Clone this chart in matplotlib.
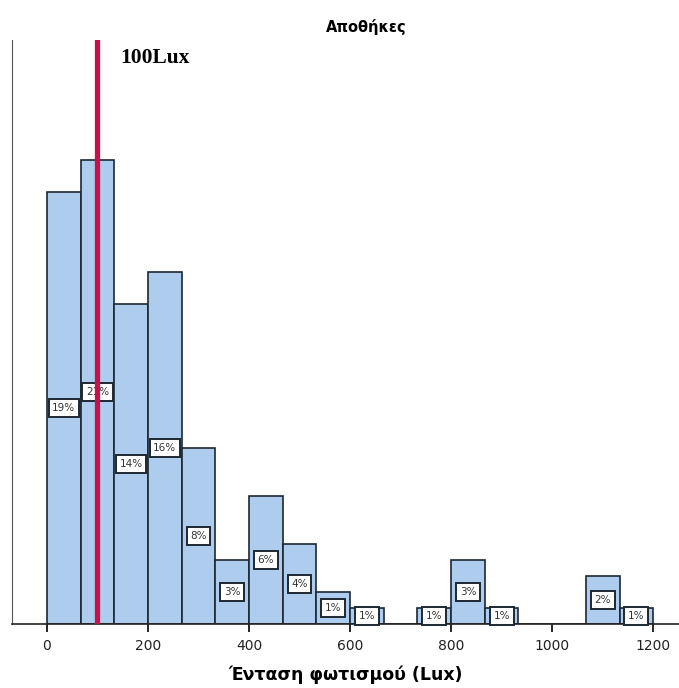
import numpy as np
import matplotlib
matplotlib.use("Agg")
import matplotlib.pyplot as plt

title = "Αποθήκες"
xlabel = "Ένταση φωτισμού (Lux)"
bin_start, bin_end, n_bins = 0, 1200, 18
counts = [27, 29, 20, 22, 11, 4, 8, 5, 2, 1, 0, 1, 4, 1, 0, 0, 3, 1]
xticks = [0, 200, 400, 600, 800, 1000, 1200]
ref_value = 100
ref_label = "100Lux"

edges = np.linspace(bin_start, bin_end, n_bins + 1)
widths = np.diff(edges)
centers = edges[:-1] + widths / 2
total = sum(counts)

fig = plt.figure(figsize=(6.79, 6.88), dpi=100)
ax = fig.add_axes([12/679, 64/688, 1 - 12/679, (624 - 40)/688])

ax.bar(edges[:-1], counts, width=widths, align="edge", color="#aecdee",
       edgecolor="#1c2833", linewidth=1.2, zorder=2)

for c, x in zip(counts, centers):
    if c == 0:
        continue
    pct = int(round(c / total * 100))
    ax.text(x, c / 2, f"{pct}%", ha="center", va="center", fontsize=7.5,
            color="#333333", zorder=3,
            bbox=dict(boxstyle="square,pad=0.35", fc="white", ec="#1c2833", lw=1.4))

ax.axvline(ref_value, color="#c8104a", lw=3.8, zorder=4)
ax.text(ref_value + 45, 35.4, ref_label, fontsize=15.5, fontweight="bold",
        family=["Liberation Serif", "DejaVu Serif"], ha="left", va="center")

ax.set_xlim(-69, 1251)
ax.set_ylim(0, 36.5)
ax.set_xticks(xticks)
ax.set_xticklabels([str(t) for t in xticks], fontsize=10, color="#222222")
ax.tick_params(axis="x", direction="out", length=6, width=1.2, pad=5)
ax.set_yticks([])
for s in ["top", "right"]:
    ax.spines[s].set_visible(False)
ax.spines["left"].set_color("#555555")
ax.spines["bottom"].set_color("#222222")
ax.spines["bottom"].set_linewidth(1.2)

ax.set_xlabel(xlabel, fontsize=12.5, fontweight="bold", labelpad=9)
fig.text(366/679, 1 - 27/688, title, fontsize=10.5, fontweight="bold",
         ha="center", va="center")

fig.savefig("out.png", dpi=100)
